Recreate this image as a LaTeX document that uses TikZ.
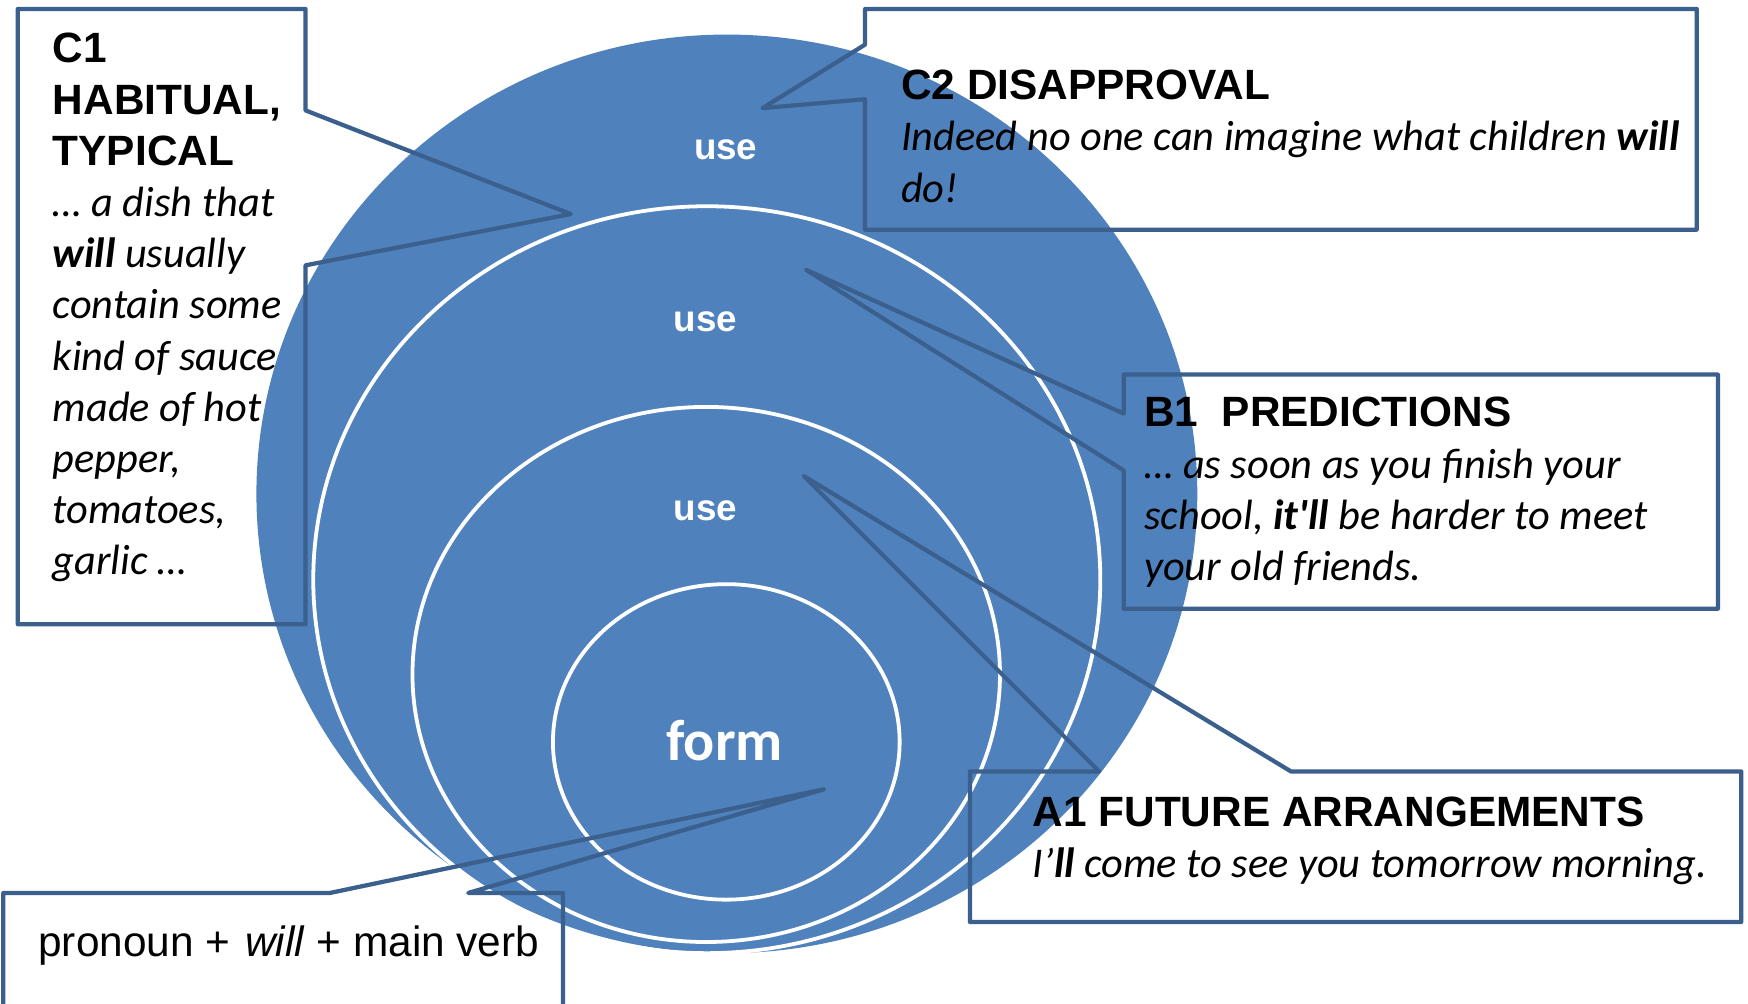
\documentclass[tikz,border=0pt]{standalone}
\usepackage{fontspec}
\newfontfamily\headfont{Liberation Sans}
\newfontfamily\examplefont{Carlito}

\definecolor{ringblue}{RGB}{79,129,189}
\definecolor{calloutline}{RGB}{59,96,141}

% text helpers
\newcommand\calhead[1]{{\headfont\bfseries #1}}
\newcommand\calex[1]{{\examplefont\itshape #1}}
\newcommand\calbold[1]{{\examplefont\bfseries\itshape #1}}
\newcommand\linestack[2]{\vtop{\baselineskip=#1\lineskiplimit=-\maxdimen\lineskip=0pt #2}}

\tikzset{
  callout/.style={draw=calloutline, line width=1.9pt, line join=round},
  ring/.style={draw=white, line width=1.7pt},
  usetext/.style={text=white, inner sep=0pt, font=\headfont\bfseries\fontsize{16.5}{18}\selectfont},
  formtext/.style={text=white, inner sep=0pt, anchor=base, font=\examplefont\bfseries\fontsize{26}{30}\selectfont},
  lbl/.style={anchor=base west, inner sep=0pt, text=black, font=\fontsize{19}{22.9}\selectfont}
}

\begin{document}
\begin{tikzpicture}[x=0.5pt,y=-0.5pt]
  \useasboundingbox (0,0) rectangle (1568,900);
  \clip (0,0) rectangle (1568,900);
  \fill[white] (0,0) rectangle (1568,900);

  % nested target: outer disc and three white rings
  \fill[ringblue] (652,443) ellipse [x radius=422, y radius=412];
  \draw[ring] (634,520) ellipse [x radius=353, y radius=335];
  \draw[ring] (633.5,605) ellipse [x radius=263.5, y radius=240];
  \draw[ring] (651.5,665.5) ellipse [x radius=155.5, y radius=141.5];

  \node[usetext] (use1) at (651,134) {use};
  \node[usetext] (use2) at (633,289) {use};
  \node[usetext] (use3) at (633,458) {use};
  \node[formtext] (form) at (650,682) {form};

  % callout pointer tips
  \coordinate (c1tip) at (512,192);
  \coordinate (c2tip) at (684,97);
  \coordinate (b1tip) at (723,242);
  \coordinate (a1tip) at (721,427);
  \coordinate (formtip) at (739,708);

  % callout outlines
  \draw[callout] (16,8) -- (274,8) -- (274,99) -- (c1tip) -- (274,238) -- (274,560) -- (16,560) -- cycle;
  \draw[callout] (776,8) -- (1522,8) -- (1522,206) -- (776,206) -- (776,89) -- (c2tip) -- (776,40) -- cycle;
  \draw[callout] (1008,336) -- (1541,336) -- (1541,546) -- (1008,546) -- (1008,422) -- (b1tip) -- (1008,371) -- cycle;
  \draw[callout] (870,692) -- (986,692) -- (a1tip) -- (1158,692) -- (1562,692) -- (1562,827) -- (870,827) -- cycle;
  \draw[callout] (3,940) -- (3,801) -- (296,801) -- (formtip) -- (420,801) -- (505,801) -- (505,940);

  % callout texts
  \node[lbl] (c1text) at (47,56.5) {\linestack{22.95pt}{%
    \hbox{\calhead{C1}}
    \hbox{\calhead{HABITUAL,}}
    \hbox{\calhead{TYPICAL}}
    \hbox{\calex{… a dish that}}
    \hbox{\calbold{will}\calex{ usually}}
    \hbox{\calex{contain some}}
    \hbox{\calex{kind of sauce}}
    \hbox{\calex{made of hot}}
    \hbox{\calex{pepper,}}
    \hbox{\calex{tomatoes,}}
    \hbox{\calex{garlic …}}}};

  \node[lbl] (c2text) at (808,89) {\linestack{23.1pt}{%
    \hbox{\calhead{C2 DISAPPROVAL}}
    \hbox{\calex{Indeed no one can imagine what children }\calbold{will}}
    \hbox{\calex{do!}}}};

  \node[lbl] (b1text) at (1026,383) {\linestack{23pt}{%
    \hbox{\calhead{B1~~PREDICTIONS}}
    \hbox{\calex{… as soon as you finish your}}
    \hbox{\calex{school, }\calbold{it'll}\calex{ be harder to meet}}
    \hbox{\calex{your old friends.}}}};

  \node[lbl] (a1text) at (926,741) {\linestack{23pt}{%
    \hbox{\calhead{A1 FUTURE ARRANGEMENTS}}
    \hbox{\calex{I’}\calbold{ll}\calex{ come to see you tomorrow morning.}}}};

  \node[lbl] (formtext) at (34,858) {\headfont pronoun +\hspace{0.35em}\textit{will} + main verb};
\end{tikzpicture}
\end{document}
